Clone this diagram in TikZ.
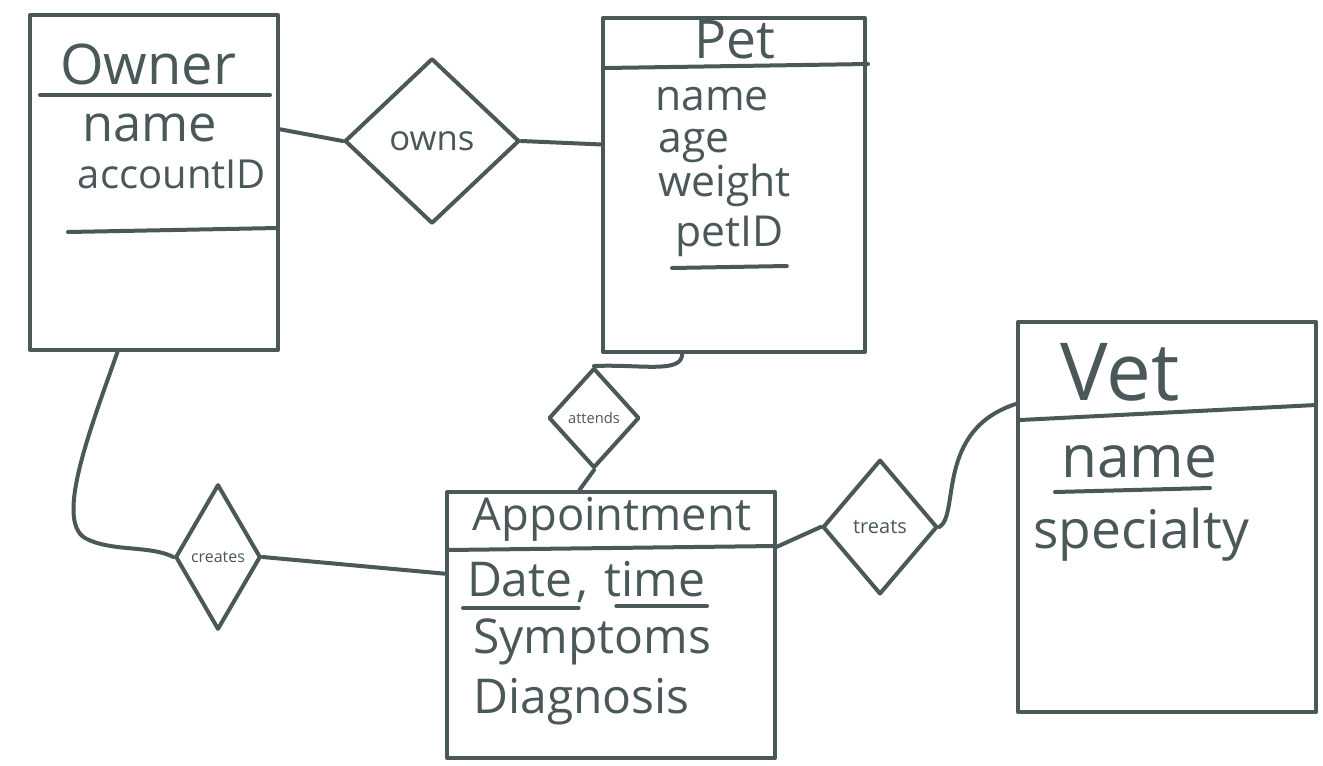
\documentclass[tikz,border=0pt]{standalone}
\usepackage{fontspec}
\setmainfont{Open Sans}
\usetikzlibrary{shapes.geometric,calc}
\definecolor{ink}{HTML}{4B5859}
\begin{document}
\begin{tikzpicture}[x=0.75pt,y=-0.75pt,
  line width=3pt, line cap=round, line join=round,
  entity/.style={draw=ink, rectangle, inner sep=0pt},
  rel/.style={draw=ink, diamond, inner sep=0pt, text=ink},
  lbl/.style={text=ink, inner sep=1pt},
  sz/.style={font=\fontsize{#1}{#1}\selectfont},
  conn/.style={draw=ink},
  rule/.style={draw=ink}]
\fill[white] (0,0) rectangle (1323,765);
\useasboundingbox (0,0) rectangle (1323,765);

% ---- entities ----
\node[entity, minimum width=186pt, minimum height=251.25pt] (owner) at (154,182.5) {};
\node[entity, minimum width=196.5pt, minimum height=250.5pt] (pet) at (734,185) {};
\node[entity, minimum width=223.5pt, minimum height=292.5pt] (vet) at (1167,517) {};
\node[entity, minimum width=246pt, minimum height=199.5pt] (appt) at (611,625) {};

% ---- Owner ----
\node[lbl, sz=42] (ownerT) at (148,64) {Owner};
\draw[rule] (40,95) -- (270,95);
\node[lbl, sz=38] (ownerA) at (150,128) {name};
\node[lbl, sz=30] (ownerB) at (172,174) {accountID};
\draw[rule] (68,232) -- (278,228);

% ---- Pet ----
\node[lbl, sz=40] (petT) at (735,40) {Pet};
\draw[rule] (605,68) -- (868,64);
\node[lbl, sz=32, anchor=base west] (petA) at (652,110) {name};
\node[lbl, sz=32, anchor=base west] (petB) at (655,152) {age};
\node[lbl, sz=32, anchor=base west] (petC) at (655,196) {weight};
\node[lbl, sz=32, anchor=base west] (petD) at (672,246) {petID};
\draw[rule] ($(petD.base west)+(0,22)$) -- ($(petD.base east)+(0,20)$);

% ---- Vet ----
\node[lbl, sz=60] (vetT) at (1120,372) {Vet};
\draw[rule] (1020,420) -- (1316,405);
\node[lbl, sz=44, anchor=west] (vetA) at (1058,462) {name};
\draw[rule] (1055,492) -- (1210,488);
\node[lbl, sz=40, anchor=west] (vetB) at (1030,535) {specialty};

% ---- Appointment ----
\node[lbl, sz=34] (apptT) at (612,519) {Appointment};
\draw[rule] (447,550) -- (775,546);
\node[lbl, sz=36, inner sep=0pt, anchor=base west] (apptD) at (465,596) {Date};
\node[lbl, sz=36, inner sep=0pt, anchor=base west] (apptC) at (apptD.base east) {,\hspace*{0.25em}};
\node[lbl, sz=36, inner sep=0pt, anchor=base west] (apptE) at (apptC.base east) {time};
\draw[rule] ($(apptD.base west)+(-2,12)$) -- ($(apptD.base east)+(4,12)$);
\draw[rule] ($(apptE.base west)+(14,10)$) -- ($(apptE.base east)+(0,10)$);
\node[lbl, sz=36, anchor=west] (apptF) at (470,642) {Symptoms};
\node[lbl, sz=36, anchor=west] (apptG) at (470,702) {Diagnosis};

% ---- relationships ----
\node[rel, minimum width=131pt, minimum height=124pt, sz=26] (owns) at (432,141) {owns};
\node[rel, minimum width=68pt, minimum height=75pt, sz=11] (attends) at (594,418) {attends};
\node[rel, minimum width=64pt, minimum height=109pt, sz=12] (creates) at (218,557) {creates};
\node[rel, minimum width=86pt, minimum height=101pt, sz=15] (treats) at (880,527) {treats};

% ---- connectors ----
\draw[conn] ($(owner.north east)!0.343!(owner.south east)$) -- (owns.west);
\draw[conn] (owns.east) -- ($(pet.north west)!0.38!(pet.south west)$);
\draw[conn] ($(pet.south west)!0.305!(pet.south east)$)
  .. controls +(0,20) and (640,364) .. (attends.north);
\draw[conn] (attends.south) -- ($(appt.north west)!0.405!(appt.north east)$);
\draw[conn] ($(owner.south west)!0.355!(owner.south east)$)
  .. controls (90,430) and (55,520) .. (85,538)
  .. controls (110,552) and (150,545) .. (creates.west);
\draw[conn] (creates.east) -- ($(appt.north west)!0.31!(appt.south west)$);
\draw[conn] ($(appt.north east)!0.21!(appt.south east)$) -- (treats.west);
\draw[conn] (treats.east) .. controls (960,515) and (935,430) .. ($(vet.north west)!0.213!(vet.south west)$);
\end{tikzpicture}
\end{document}
